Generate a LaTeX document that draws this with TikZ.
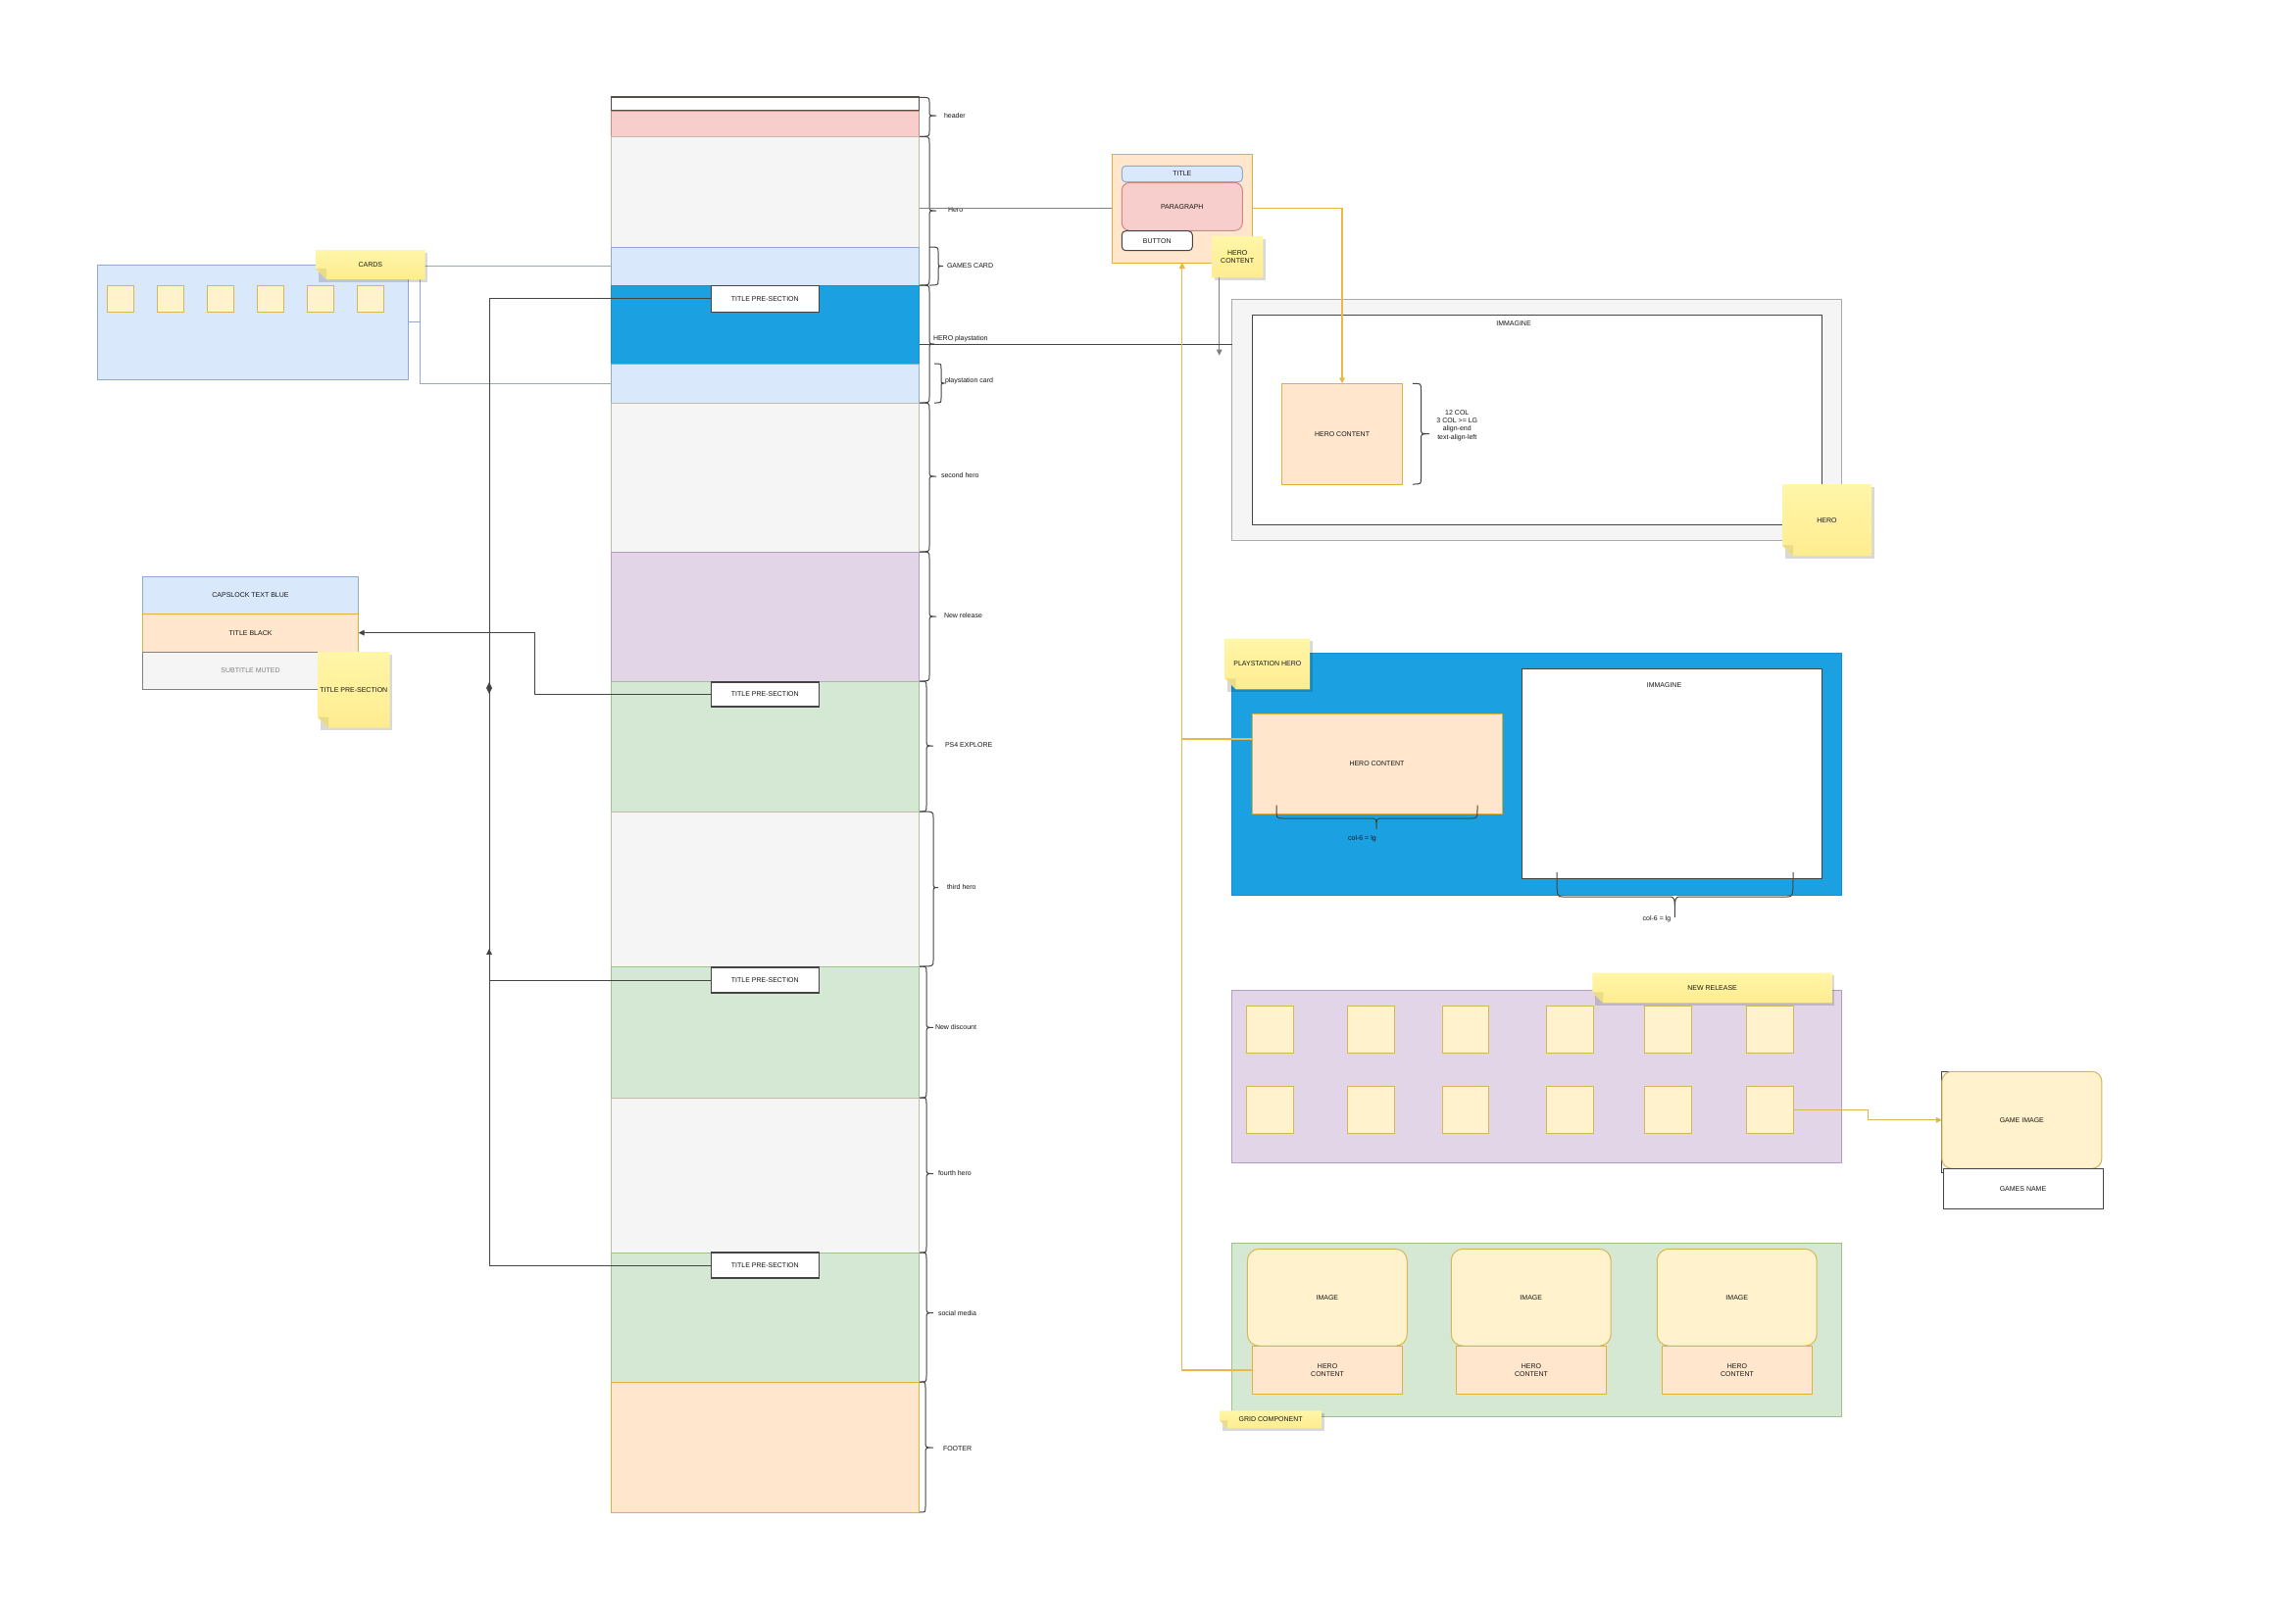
\documentclass[tikz,border=0pt]{standalone}
\usepackage{fontspec}
\setmainfont{Liberation Sans}
\usetikzlibrary{arrows.meta,calc}

\definecolor{pinkF}{HTML}{F8CECC}\definecolor{pinkS}{HTML}{C98A86}
\definecolor{grayF}{HTML}{F5F5F5}\definecolor{grayS}{HTML}{C2BBA9}
\definecolor{outerS}{HTML}{AAAAAA}
\definecolor{blueLF}{HTML}{DAE8FC}\definecolor{blueLS}{HTML}{8FA9D3}
\definecolor{psF}{HTML}{1BA1E2}\definecolor{psS}{HTML}{1890CF}
\definecolor{purF}{HTML}{E1D5E7}\definecolor{purS}{HTML}{B59CC2}
\definecolor{grnF}{HTML}{D5E8D4}\definecolor{grnS}{HTML}{9CC38A}
\definecolor{orgF}{HTML}{FFE6CC}\definecolor{orgS}{HTML}{E3AE3A}
\definecolor{ylwF}{HTML}{FFF2CC}\definecolor{ylwS}{HTML}{D6B656}
\definecolor{noteA}{HTML}{FFF6A8}\definecolor{noteB}{HTML}{FFEC90}
\definecolor{noteFold}{HTML}{EADB86}
\definecolor{hdrS}{HTML}{5B4B45}
\definecolor{ink}{HTML}{161616}
\definecolor{wire}{HTML}{444444}
\definecolor{goldwire}{HTML}{E8B84C}

\tikzset{
  lbl/.style={font=\fontsize{3.5}{4.2}\selectfont, text=ink, inner sep=0pt, outer sep=0pt, align=center},
  box/.style={lbl, line width=0.5pt},
  bracepen/.style={draw=ink!80, line width=0.5pt},
  darkwire/.style={draw=wire, line width=0.5pt},
  graywire/.style={draw=gray, line width=0.5pt},
  cardwire/.style={draw=blueLS, line width=0.5pt},
  orangewire/.style={draw=goldwire, line width=0.6pt},
  yellowwire/.style={draw=ylwS, line width=0.6pt},
  tip/.style={-{Triangle[length=3pt,width=2.8pt]}},
}

% rectangle node given by its corners (pixel units, y downwards)
\newcommand\areabox[7][]{%
  \node[box,minimum width={(#5-#3)*0.5pt},minimum height={(#6-#4)*0.5pt},#1] (#2)
    at ({(#3+#5)/2},{(#4+#6)/2}) {#7};}

% sticky note with a folded lower-left corner
\newcommand\stickynote[7]{%
  \fill[black,opacity=0.15] (#2+2.5,#3+2.5) rectangle (#4+2.5,#5+2.5);
  \shade[top color=noteA,bottom color=noteB] (#2+#6,#5) -- (#2,#5-#6) -- (#2,#3) -- (#4,#3) -- (#4,#5) -- cycle;
  \fill[noteFold] (#2,#5-#6) -- (#2+#6,#5-#6) -- (#2+#6,#5) -- cycle;
  \node[lbl,minimum width={(#4-#2)*0.5pt},minimum height={(#5-#3)*0.5pt}] (#1)
    at ({(#2+#4)/2},{(#3+#5)/2}) {#7};}

% vertical curly brace: x0 (ends), x1 (stem), x2 (tip), y1, y2, ymid, radius
\newcommand\secbrace[7]{%
  \draw[bracepen] (#1,#4) .. controls (#2,#4) .. (#2,#4+#7) -- (#2,#6-#7)
    .. controls (#2,#6) .. (#3,#6) .. controls (#2,#6) .. (#2,#6+#7)
    -- (#2,#5-#7) .. controls (#2,#5) .. (#1,#5);}

% horizontal curly brace opening upwards: y0 (ends), y1 (bar), y2 (tip), x1, x2, xmid, radius
\newcommand\spanbrace[7]{%
  \draw[bracepen] (#4,#1) .. controls (#4,#2) .. (#4+#7,#2) -- (#6-#7,#2)
    .. controls (#6,#2) .. (#6,#3) .. controls (#6,#2) .. (#6+#7,#2)
    -- (#5-#7,#2) .. controls (#5,#2) .. (#5,#1);}

\begin{document}
\begin{tikzpicture}[x=0.5pt,y=-0.5pt]
\useasboundingbox (0,0) rectangle (2342,1656);
\fill[white] (0,0) rectangle (2342,1656);

% ---------------- page wireframe column ----------------
\areabox[fill=white,draw=hdrS,line width=0.9pt]{secTop}{623.5}{99.3}{937.5}{113.3}{}
\areabox[fill=pinkF,draw=pinkS]{secHead}{623.5}{113.3}{937.5}{139.3}{}
\areabox[fill=grayF,draw=grayS]{secHero}{623.5}{139.3}{937.5}{252}{}
\areabox[fill=blueLF,draw=blueLS]{secGames}{623.5}{252}{937.5}{291}{}
\areabox[fill=psF,draw=psS]{secPsHero}{623.5}{291}{937.5}{371}{}
\areabox[fill=blueLF,draw=blueLS]{secPsCard}{623.5}{371}{937.5}{411}{}
\areabox[fill=grayF,draw=grayS]{secHeroB}{623.5}{411}{937.5}{563}{}
\areabox[fill=purF,draw=purS]{secNewRel}{623.5}{563}{937.5}{695}{}
\areabox[fill=grnF,draw=grnS]{secPsExp}{623.5}{695}{937.5}{828}{}
\areabox[fill=grayF,draw=grayS]{secHeroC}{623.5}{828}{937.5}{986}{}
\areabox[fill=grnF,draw=grnS]{secDisc}{623.5}{986}{937.5}{1120}{}
\areabox[fill=grayF,draw=grayS]{secHeroD}{623.5}{1120}{937.5}{1278}{}
\areabox[fill=grnF,draw=grnS]{secSocial}{623.5}{1278}{937.5}{1410}{}
\areabox[fill=orgF,draw=orgS]{secFooter}{623.5}{1410}{937.5}{1543}{}

% section braces and their names
\secbrace{938}{948}{955}{99.3}{139.3}{118}{5}
\node[lbl,anchor=west] (lHeader) at (963,118) {header};
\secbrace{938}{948}{955}{139.3}{291}{215}{6}
\node[lbl,anchor=west] (lHero) at (967,214) {Hero};
\secbrace{948}{957}{962}{252}{291}{271.5}{5}
\node[lbl,anchor=west] (lGames) at (966,271) {GAMES CARD};
\secbrace{938}{948}{953}{291}{411}{351}{6}
\node[lbl,anchor=west] (lPsHero) at (952,346) {HERO playstation};
\secbrace{953}{960}{963}{371}{411}{391}{5}
\node[lbl,anchor=west] (lPsCard) at (964,389) {playstation card};
\secbrace{938}{948}{955}{411}{563}{486}{6}
\node[lbl,anchor=west] (lHeroB) at (960,485) {second hero};
\secbrace{938}{948}{955}{563}{695}{629}{6}
\node[lbl,anchor=west] (lNewRel) at (963,628) {New release};
\secbrace{938}{945}{952}{695}{828}{761}{6}
\node[lbl,anchor=west] (lPsExp) at (964,760) {PS4 EXPLORE};
\secbrace{938}{952}{957}{828}{986}{905.6}{6}
\node[lbl,anchor=west] (lHeroC) at (966,905) {third hero};
\secbrace{938}{945}{952}{986}{1120}{1048.4}{6}
\node[lbl,anchor=west] (lDisc) at (954,1048) {New discount};
\secbrace{938}{945}{952}{1120}{1278}{1197.5}{6}
\node[lbl,anchor=west] (lHeroD) at (957,1197) {fourth hero};
\secbrace{938}{945}{952}{1278}{1410}{1339.6}{6}
\node[lbl,anchor=west] (lSocial) at (957,1340) {social media};
\secbrace{938}{944}{952}{1410}{1543}{1477}{6}
\node[lbl,anchor=west] (lFooter) at (962,1478) {FOOTER};

% section title boxes
\areabox[fill=white,draw=wire,line width=0.6pt]{tpsA}{725.3}{291.3}{835.3}{318.3}{TITLE PRE-SECTION}
\areabox[fill=white,draw=wire,line width=0.6pt]{tpsB}{725.3}{696}{835.3}{721}{TITLE PRE-SECTION}
\areabox[fill=white,draw=wire,line width=0.6pt]{tpsC}{725.3}{987}{835.3}{1013}{TITLE PRE-SECTION}
\areabox[fill=white,draw=wire,line width=0.6pt]{tpsD}{725.3}{1278}{835.3}{1304}{TITLE PRE-SECTION}

% ---------------- cards component ----------------
\areabox[fill=blueLF,draw=blueLS]{cardsBox}{99.6}{270}{416}{387}{}
\foreach \i/\x in {1/109,2/160,3/211,4/262,5/313,6/364}{
  \areabox[fill=ylwF,draw=ylwS]{card\i}{\x}{291.3}{\x+27}{318.7}{}
}
\coordinate (cardJoin) at (428,0);
\draw[cardwire] (secGames.west) -- (secGames.west -| cardJoin) |- (cardsBox.east);
\draw[cardwire] (secPsCard.west) -- (secPsCard.west -| cardJoin) |- (cardsBox.east);
\stickynote{noteCards}{322}{255}{433.6}{285}{11}{CARDS}

% ---------------- title styles ----------------
\areabox[fill=blueLF,draw=blueLS]{tCaps}{145.3}{588.3}{365.7}{626.3}{CAPSLOCK TEXT BLUE}
\areabox[fill=orgF,draw=orgS]{tBlack}{145.3}{626.3}{365.7}{665}{TITLE BLACK}
\areabox[fill=grayF,draw=gray,text=gray]{tMuted}{145.3}{665}{365.7}{703.3}{SUBTITLE MUTED}
\stickynote{noteTitle}{324}{665}{397.7}{742.7}{11}{TITLE PRE-SECTION}

% connectors from the section titles
\coordinate (tpsDown) at (499,708);
\coordinate (tpsUp) at (499,696);
\coordinate (tpsUpB) at (499,968);
\draw[darkwire,tip] (tpsA.west) -| (tpsDown);
\draw[darkwire,tip] (tpsD.west) -| (tpsUp);
\draw[darkwire,tip] (tpsC.west) -| (tpsUpB);
\draw[darkwire,tip] (tpsB.west) -- ++(-180,0) |- (tBlack.east);

% ---------------- hero content card ----------------
\areabox[fill=orgF,draw=orgS]{heroCard}{1134.3}{157.3}{1277.3}{268}{}
\areabox[fill=blueLF,draw=blueLS,rounded corners=2pt]{hcTitle}{1144.3}{169.3}{1267.3}{185.7}{TITLE}
\areabox[fill=pinkF,draw=pinkS,rounded corners=4pt]{hcPara}{1144.3}{186.3}{1267.3}{235.3}{PARAGRAPH}
\areabox[fill=white,draw=wire,rounded corners=2pt]{hcButton}{1144.3}{235.7}{1216.3}{255.7}{BUTTON}
\stickynote{noteHeroContent}{1236}{241}{1288.3}{283.3}{0}{HERO\\CONTENT}
\coordinate (hcDrop) at (1243.7,362.7);
\draw[graywire,tip] (noteHeroContent.south -| hcDrop) -- (hcDrop);
\draw[graywire] (secHero.east |- heroCard.west) -- (heroCard.west);

% ---------------- hero section ----------------
\areabox[fill=grayF,draw=outerS]{heroOuter}{1256.5}{305}{1878.8}{551.3}{}
\areabox[fill=white,draw=wire]{heroImg}{1277.3}{321.3}{1858.4}{535.3}{}
\node[lbl] (heroImgLbl) at (1544,329.7) {IMMAGINE};
\areabox[fill=orgF,draw=orgS]{heroHC}{1307.7}{391.3}{1430.4}{494}{HERO CONTENT}
\secbrace{1440.8}{1449.5}{1458}{391.3}{494}{442.7}{6}
\node[lbl] (heroCols) at (1486.3,434) {12 COL\\3 COL >= LG\\align-end\\text-align-left};
\stickynote{noteHero}{1818}{494}{1909}{567.3}{11}{HERO}
\coordinate (hpsPt) at (937.5,351);
\draw[darkwire] (hpsPt) -- (hpsPt -| heroOuter.west);
\draw[orangewire,tip] (heroCard.east) -| (heroHC.north);

% ---------------- playstation hero ----------------
\areabox[fill=psF,draw=psS]{psBox}{1256}{666}{1878.9}{913.3}{}
\areabox[fill=orgF,draw=orgS]{psHC}{1277}{728.3}{1532}{830.7}{HERO CONTENT}
\areabox[fill=white,draw=wire]{psImg}{1552.3}{682.7}{1858.3}{896.3}{}
\node[lbl] (psImgLbl) at (1697.5,699.3) {IMMAGINE};
\spanbrace{821.7}{835}{846}{1302}{1507}{1404}{6}
\node[lbl] (psColA) at (1389.4,855.7) {col-6 = lg};
\spanbrace{890}{915}{936}{1588}{1829}{1708.4}{6}
\node[lbl] (psColB) at (1690,937.7) {col-6 = lg};
\stickynote{notePs}{1249.7}{651.7}{1336}{703.3}{11}{PLAYSTATION HERO}
\draw[orangewire,tip] ($(psHC.north west)!0.25!(psHC.south west)$) -| (heroCard.south);

% ---------------- new release ----------------
\areabox[fill=purF,draw=purS]{nrBox}{1256.3}{1010}{1878.6}{1186.7}{}
\foreach \c/\x in {1/1271.8,2/1374.6,3/1471,4/1577.8,5/1677.7,6/1781.6}{
  \areabox[fill=ylwF,draw=ylwS]{nrA\c}{\x}{1026.3}{\x+47.6}{1074.3}{}
  \areabox[fill=ylwF,draw=ylwS]{nrB\c}{\x}{1108.3}{\x+47.6}{1156.3}{}
}
\stickynote{noteNR}{1624.3}{992.7}{1868.8}{1023.3}{11}{NEW RELEASE}

% game card
\areabox[fill=white,draw=wire]{gameFrame}{1980.8}{1093.3}{2084}{1196}{}
\areabox[fill=ylwF,draw=ylwS,rounded corners=5pt]{gameImg}{1980.8}{1093.3}{2143.8}{1192.3}{GAME IMAGE}
\areabox[fill=white,draw=wire]{gameName}{1982}{1192.3}{2145}{1233.3}{GAMES NAME}
\draw[yellowwire,tip] (nrB6.east) -- ++(76,0) |- (gameImg.west);

% ---------------- grid component ----------------
\areabox[fill=grnF,draw=grnS]{gridBox}{1256.8}{1268.3}{1878.5}{1445}{}
\foreach \c/\x/\h in {1/1272.4/1277.5,2/1480.3/1485.4,3/1690.3/1695.4}{
  \areabox[fill=ylwF,draw=ylwS,rounded corners=6pt]{gImg\c}{\x}{1274.3}{\x+162.9}{1373.3}{IMAGE}
  \areabox[fill=orgF,draw=orgS]{gHC\c}{\h}{1373.3}{\h+153.2}{1422.7}{HERO\\CONTENT}
}
\stickynote{noteGrid}{1244.2}{1439.3}{1348.2}{1457.3}{8}{GRID COMPONENT}
\draw[orangewire,tip] (gHC1.west) -| (heroCard.south);

\end{tikzpicture}
\end{document}
